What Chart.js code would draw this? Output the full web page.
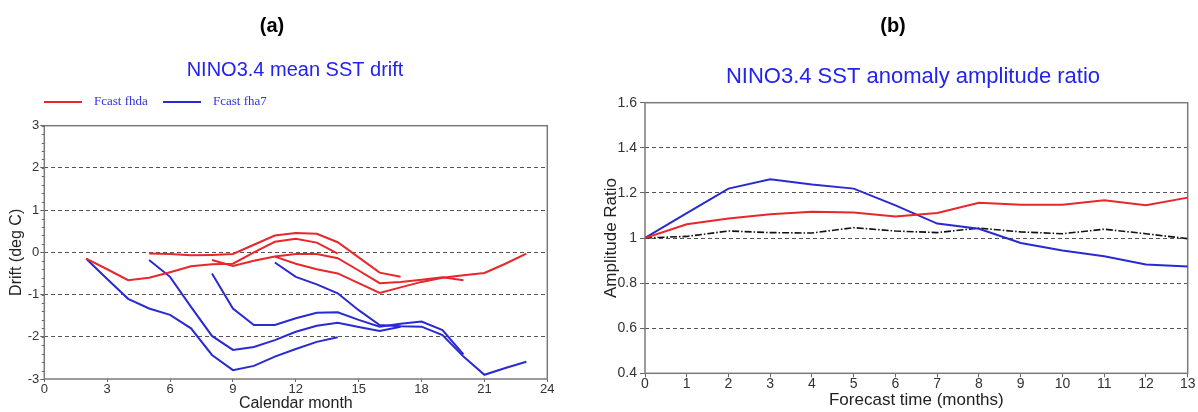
<!DOCTYPE html>
<html>
<head>
<meta charset="utf-8">
<script src="https://cdn.jsdelivr.net/npm/chart.js@4/dist/chart.umd.min.js"></script>
<style>
  html, body { margin: 0; padding: 0; background: #fff; }
  #wrap { position: relative; width: 1198px; height: 412px; overflow: hidden; }
  .panel { position: absolute; top: 0; width: 599px; height: 412px; }
</style>
</head>
<body>
<div id="wrap">
  <div class="panel" style="left:0"><canvas id="drift" width="599" height="412"></canvas></div>
  <div class="panel" style="left:599px"><canvas id="ratio" width="599" height="412"></canvas></div>
</div>
<script>
// ---- Panel (a): NINO3.4 mean SST drift, 12-month forecasts by start month ----
const forecastStarts = [2, 5, 8, 11];

// Fcast fhda (red), one list per start month, values for 13 consecutive months
const fhdaFeb = [-0.15, -0.40, -0.66, -0.60, -0.47, -0.33, -0.28, -0.27, 0.00, 0.25, 0.32, 0.23, -0.03];
const fhdaMay = [-0.03, -0.04, -0.07, -0.06, -0.04, 0.18, 0.40, 0.46, 0.44, 0.24, -0.12, -0.48, -0.58];
const fhdaAug = [-0.18, -0.32, -0.20, -0.10, -0.04, -0.04, -0.14, -0.43, -0.73, -0.70, -0.65, -0.59, -0.66];
const fhdaNov = [-0.10, -0.27, -0.40, -0.50, -0.73, -0.96, -0.83, -0.70, -0.60, -0.54, -0.49, -0.27, -0.03];

// Fcast fha7 (blue)
const fha7Feb = [-0.15, -0.63, -1.10, -1.33, -1.48, -1.80, -2.43, -2.79, -2.69, -2.47, -2.29, -2.12, -2.01];
const fha7May = [-0.18, -0.58, -1.29, -1.98, -2.31, -2.24, -2.08, -1.88, -1.74, -1.67, -1.77, -1.86, -1.76];
const fha7Aug = [-0.50, -1.33, -1.72, -1.72, -1.56, -1.43, -1.42, -1.60, -1.76, -1.69, -1.64, -1.84, -2.42];
const fha7Nov = [-0.24, -0.58, -0.76, -0.97, -1.37, -1.72, -1.75, -1.76, -1.96, -2.47, -2.90, -2.74, -2.59];

const monthTicks = [0, 3, 6, 9, 12, 15, 18, 21, 24];
const driftTicks = [-3, -2, -1, 0, 1, 2, 3];

// ---- Panel (b): NINO3.4 SST anomaly amplitude ratio ----
const leadMonths = [0, 1, 2, 3, 4, 5, 6, 7, 8, 9, 10, 11, 12, 13];
const fhdaRatio = [1.000, 1.061, 1.086, 1.105, 1.116, 1.113, 1.095, 1.111, 1.156, 1.148, 1.148, 1.167, 1.145, 1.179];
const fha7Ratio = [1.000, 1.110, 1.219, 1.260, 1.237, 1.219, 1.145, 1.064, 1.041, 0.978, 0.945, 0.919, 0.883, 0.874];
const obsRatio  = [1.000, 1.007, 1.031, 1.024, 1.022, 1.046, 1.031, 1.024, 1.044, 1.027, 1.019, 1.039, 1.019, 0.997];

const ratioTicks = [0.4, 0.6, 0.8, 1.0, 1.2, 1.4, 1.6];
const ratioTickLabels = ['0.4', '0.6', '0.8', '1', '1.2', '1.4', '1.6'];

const RED = '#e8272b';
const BLUE = '#2a2ad2';
const SANS = '"Liberation Sans", Arial, sans-serif';

function series(start, values) {
  return values.map((v, i) => ({ x: start + i, y: v }));
}

function lineSet(label, color, data) {
  return {
    label, data, borderColor: color, backgroundColor: color,
    borderWidth: 2, pointRadius: 0, tension: 0, fill: false
  };
}

// headings, coloured titles and the hand-placed legend
const panelText = {
  id: 'panelText',
  afterDraw(chart, args, o) {
    const ctx = chart.ctx;
    ctx.save();
    ctx.textAlign = 'center';
    ctx.textBaseline = 'middle';
    ctx.fillStyle = '#000';
    ctx.font = 'bold 20px ' + SANS;
    ctx.fillText(o.heading, o.headingX, o.headingY);
    ctx.fillStyle = '#2323f0';
    ctx.font = o.titleSize + 'px ' + SANS;
    ctx.fillText(o.title, o.titleX, o.titleY);
    if (o.legend) {
      const seen = new Set();
      ctx.textAlign = 'left';
      ctx.font = '13px "Liberation Serif", "Times New Roman", serif';
      o.legend.forEach(item => {
        const ds = chart.data.datasets.find(d => d.label === item.label);
        ctx.strokeStyle = ds.borderColor;
        ctx.lineWidth = 2;
        ctx.beginPath();
        ctx.moveTo(item.x, o.legendY);
        ctx.lineTo(item.x + 38, o.legendY);
        ctx.stroke();
        ctx.fillStyle = '#3333e0';
        ctx.fillText(ds.label, item.x + 50, o.legendY);
      });
    }
    ctx.restore();
  }
};

// plot frame plus small minor tick marks on the value axis
const frame = {
  id: 'frame',
  beforeDatasetsDraw(chart, args, o) {
    const { ctx, chartArea: a } = chart;
    ctx.save();
    ctx.strokeStyle = '#7a7a7a';
    ctx.lineWidth = 1.5;
    ctx.strokeRect(a.left, a.top, a.right - a.left, a.bottom - a.top);
    if (o.minorStep) {
      const y = chart.scales.y;
      ctx.lineWidth = 1;
      ctx.strokeStyle = '#666';
      const n = Math.round((y.max - y.min) / o.minorStep);
      for (let i = 0; i <= n; i++) {
        const py = Math.round(y.getPixelForValue(y.min + i * o.minorStep)) + 0.5;
        ctx.beginPath();
        ctx.moveTo(a.left - 2.5, py);
        ctx.lineTo(a.left, py);
        ctx.stroke();
      }
    }
    ctx.restore();
  }
};

function fixedTicks(values) {
  return scale => { scale.ticks = values.map(v => ({ value: v })); };
}

function yGridColor(min, max) {
  return c => (c.tick && (Math.abs(c.tick.value - min) < 1e-9 || Math.abs(c.tick.value - max) < 1e-9)) ? 'rgba(0,0,0,0)' : '#555';
}

Chart.defaults.font.family = SANS;
Chart.defaults.color = '#333';

new Chart(document.getElementById('drift'), {
  type: 'line',
  data: {
    datasets: [
      lineSet('Fcast fhda', RED, series(forecastStarts[0], fhdaFeb)),
      lineSet('Fcast fhda', RED, series(forecastStarts[1], fhdaMay)),
      lineSet('Fcast fhda', RED, series(forecastStarts[2], fhdaAug)),
      lineSet('Fcast fhda', RED, series(forecastStarts[3], fhdaNov)),
      lineSet('Fcast fha7', BLUE, series(forecastStarts[0], fha7Feb)),
      lineSet('Fcast fha7', BLUE, series(forecastStarts[1], fha7May)),
      lineSet('Fcast fha7', BLUE, series(forecastStarts[2], fha7Aug)),
      lineSet('Fcast fha7', BLUE, series(forecastStarts[3], fha7Nov))
    ]
  },
  options: {
    responsive: false,
    animation: false,
    events: [],
    layout: { padding: { top: 125.7, right: 51.7, bottom: 0, left: 0 } },
    plugins: {
      legend: { display: false },
      tooltip: { enabled: false },
      panelText: {
        heading: '(a)', headingX: 272, headingY: 26,
        title: 'NINO3.4 mean SST drift', titleSize: 20, titleX: 295, titleY: 70,
        legendY: 102,
        legend: [{ label: 'Fcast fhda', x: 44 }, { label: 'Fcast fha7', x: 163 }]
      },
      frame: { minorStep: 0.2 }
    },
    scales: {
      x: {
        type: 'linear', min: 0, max: 24,
        afterBuildTicks: fixedTicks(monthTicks),
        afterFit: s => { s.height = 33; },
        grid: { drawOnChartArea: false, tickLength: 3, tickColor: '#666', color: '#666' },
        border: { display: false },
        ticks: { font: { size: 13, lineHeight: 1 }, padding: 1, maxRotation: 0, callback: v => String(v) },
        title: { display: true, text: 'Calendar month', color: '#222', font: { size: 16, lineHeight: 1 }, padding: { top: 0, bottom: 0 } }
      },
      y: {
        type: 'linear', min: -3, max: 3,
        afterBuildTicks: fixedTicks(driftTicks),
        afterFit: s => { s.width = 44.3; },
        grid: { color: yGridColor(-3, 3), tickLength: 4, tickColor: '#666', lineWidth: 1 },
        border: { display: false, dash: [4, 3] },
        ticks: { font: { size: 13 }, padding: 1, callback: v => String(v) },
        title: { display: true, text: 'Drift (deg C)', color: '#222', font: { size: 16, lineHeight: 1 }, padding: { top: 9, bottom: 0 } }
      }
    }
  },
  plugins: [frame, panelText]
});

new Chart(document.getElementById('ratio'), {
  type: 'line',
  data: {
    labels: leadMonths,
    datasets: [
      lineSet('Fcast fhda', RED, fhdaRatio.map((v, i) => ({ x: leadMonths[i], y: v }))),
      lineSet('Fcast fha7', BLUE, fha7Ratio.map((v, i) => ({ x: leadMonths[i], y: v }))),
      Object.assign(lineSet('Observed', '#111', obsRatio.map((v, i) => ({ x: leadMonths[i], y: v }))),
        { borderWidth: 1.6, borderDash: [7, 2, 1.5, 2] })
    ]
  },
  options: {
    responsive: false,
    animation: false,
    events: [],
    layout: { padding: { top: 102.7, right: 10.3, bottom: 0, left: 0 } },
    plugins: {
      legend: { display: false },
      tooltip: { enabled: false },
      panelText: {
        heading: '(b)', headingX: 294, headingY: 26,
        title: 'NINO3.4 SST anomaly amplitude ratio', titleSize: 22, titleX: 314, titleY: 77
      },
      frame: {}
    },
    scales: {
      x: {
        type: 'linear', min: 0, max: 13,
        afterBuildTicks: fixedTicks(leadMonths),
        afterFit: s => { s.height = 38.7; },
        grid: { drawOnChartArea: false, tickLength: 4, tickColor: '#666', color: '#666' },
        border: { display: false },
        ticks: { font: { size: 14, lineHeight: 1 }, padding: 0, maxRotation: 0, autoSkip: false, callback: v => String(v) },
        title: { display: true, text: 'Forecast time (months)', color: '#222', font: { size: 17, lineHeight: 1 }, padding: { top: 0, bottom: 3.5 } }
      },
      y: {
        type: 'linear', min: 0.4, max: 1.6,
        afterBuildTicks: fixedTicks(ratioTicks),
        afterFit: s => { s.width = 46; },
        grid: { color: yGridColor(0.4, 1.6), tickLength: 5, tickColor: '#666', lineWidth: 1 },
        border: { display: false, dash: [4, 3] },
        ticks: { font: { size: 14 }, padding: 3, callback: (v, i) => ratioTickLabels[ratioTicks.indexOf(v)] ?? String(v) },
        title: { display: true, text: 'Amplitude Ratio', color: '#222', font: { size: 17, lineHeight: 1 }, padding: { top: 3.5, bottom: 0 } }
      }
    }
  },
  plugins: [frame, panelText]
});
</script>
</body>
</html>
